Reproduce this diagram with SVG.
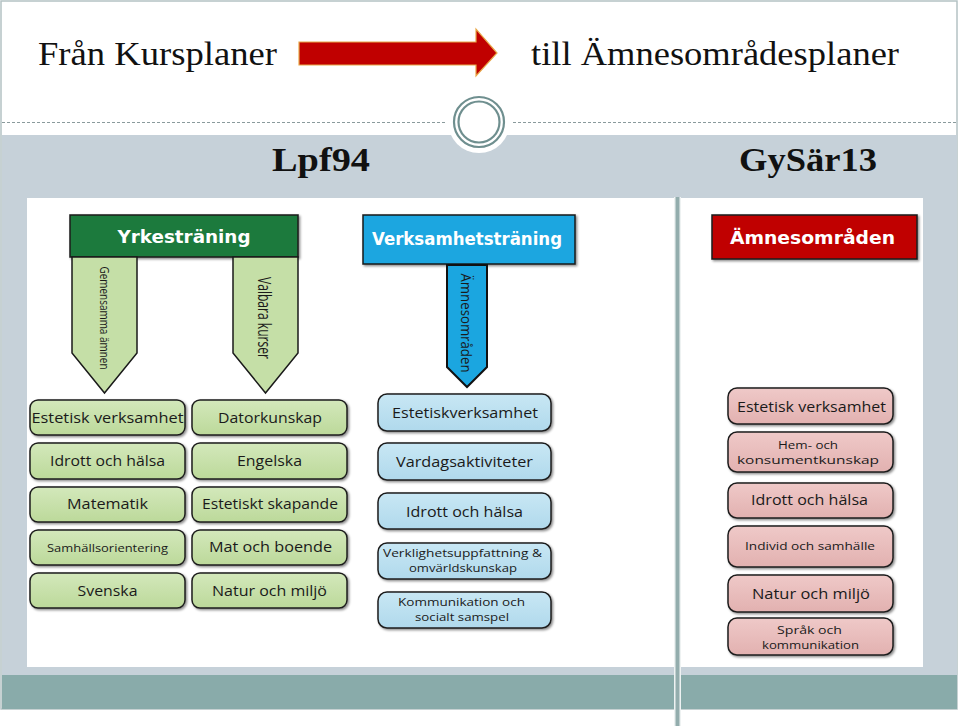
<svg xmlns="http://www.w3.org/2000/svg" width="960" height="726" viewBox="0 0 960 726">
<defs>
<linearGradient id="gG" x1="0" y1="0" x2="0" y2="1"><stop offset="0" stop-color="#d3e8bb"/><stop offset="1" stop-color="#bcd99a"/></linearGradient>
<linearGradient id="gB" x1="0" y1="0" x2="0" y2="1"><stop offset="0" stop-color="#c8e7f4"/><stop offset="1" stop-color="#b0d9ec"/></linearGradient>
<linearGradient id="gR" x1="0" y1="0" x2="0" y2="1"><stop offset="0" stop-color="#efc9c8"/><stop offset="1" stop-color="#e2b1b0"/></linearGradient>
<filter id="sh" x="-10%" y="-10%" width="125%" height="130%"><feDropShadow dx="1.5" dy="1.5" stdDeviation="1" flood-color="#000" flood-opacity="0.45"/></filter>
</defs>
<style>
.title{font-family:"Liberation Serif","Times New Roman",serif;font-size:34px;fill:#111}
.sub{font-family:"Liberation Serif","Times New Roman",serif;font-size:33px;font-weight:bold;fill:#111}
.hdr{font-family:"DejaVu Sans",Verdana,sans-serif;font-weight:bold;font-size:17px;fill:#fff;text-anchor:middle}
.bx{stroke:#1e1e1e;stroke-width:1.5;filter:url(#sh)}
.g{fill:url(#gG)}
.b{fill:url(#gB)}
.r{fill:url(#gR)}
.t{font-family:"Open Sans","Noto Sans",sans-serif;font-size:14px;fill:#1a1a1a;text-anchor:middle}
.s{font-family:"Open Sans","Noto Sans",sans-serif;font-size:11.5px;fill:#1a1a1a;text-anchor:middle}
.vt{font-family:"Open Sans","Noto Sans",sans-serif;fill:#1a1a1a;text-anchor:middle;dominant-baseline:central}
.arw{stroke:#1a1a1a;stroke-width:1.5}
</style>

<!-- background -->
<rect x="0" y="0" width="960" height="726" fill="#fff"/>
<rect x="1" y="1" width="956" height="708" fill="#fff" stroke="#b4c2c4" stroke-width="1.5"/>
<rect x="2" y="135" width="955" height="540" fill="#c6d1d9"/>
<rect x="2" y="675" width="955" height="34" fill="#89abaa"/>
<line x1="2" y1="122.5" x2="445" y2="122.5" stroke="#8a9a9c" stroke-width="1" stroke-dasharray="3,2"/>
<line x1="513" y1="122.5" x2="956" y2="122.5" stroke="#8a9a9c" stroke-width="1" stroke-dasharray="3,2"/>
<circle cx="479" cy="122" r="31" fill="#fff"/>
<circle cx="479" cy="122" r="25" fill="none" stroke="#6f8f8f" stroke-width="2.2"/>
<circle cx="479" cy="122" r="20.5" fill="none" stroke="#6f8f8f" stroke-width="2.2"/>
<rect x="27" y="198" width="896" height="469" fill="#fff"/>
<rect x="674" y="197" width="7" height="529" fill="#eef2f2"/>
<rect x="675.5" y="197" width="4" height="529" fill="#93adad"/>

<!-- titles -->
<text class="title" x="38" y="65" textLength="239" lengthAdjust="spacingAndGlyphs">Från Kursplaner</text>
<text class="title" x="531" y="65" textLength="368" lengthAdjust="spacingAndGlyphs">till Ämnesområdesplaner</text>
<text class="sub" x="272" y="171" textLength="98" lengthAdjust="spacingAndGlyphs">Lpf94</text>
<text class="sub" x="739" y="171" textLength="138" lengthAdjust="spacingAndGlyphs">GySär13</text>

<g id="connectors">
<polygon points="299,42 476,42 476,29 497,53 476,76 476,65 299,65" fill="#c00000" stroke="#e8a848" stroke-width="1.2"/>
</g>

<!-- Lpf94 Yrkesträning -->
<g id="yrkestraning">
<rect x="70" y="215" width="228" height="42" fill="#1e7a3e" stroke="#1a1a1a" stroke-width="1.5" filter="url(#sh)"/>
<text class="hdr" x="184" y="243" textLength="133" lengthAdjust="spacingAndGlyphs">Yrkesträning</text>
</g>
<g id="gemensamma-amnen">
<polygon class="arw" points="72,257 137,257 137,353 104.5,393 72,353" fill="#c5dfa7"/>
<text class="vt" font-size="12.5" transform="translate(104,318) rotate(90)" textLength="103" lengthAdjust="spacingAndGlyphs">Gemensamma ämnen</text>
</g>
<g id="valbara-kurser">
<polygon class="arw" points="233,257 298,257 298,353 265.5,393 233,353" fill="#c5dfa7"/>
<text class="vt" font-size="18" transform="translate(265,318) rotate(90)" textLength="82" lengthAdjust="spacingAndGlyphs">Valbara kurser</text>
</g>

<g id="g-estetisk"><rect class="bx g" x="30" y="400" width="155" height="35" rx="8"/><text class="t" x="107.5" y="423" textLength="152" lengthAdjust="spacingAndGlyphs">Estetisk verksamhet</text></g>
<g id="g-idrott"><rect class="bx g" x="30" y="443" width="155" height="36" rx="8"/><text class="t" x="107.5" y="466" textLength="115" lengthAdjust="spacingAndGlyphs">Idrott och hälsa</text></g>
<g id="g-matematik"><rect class="bx g" x="30" y="487" width="155" height="35" rx="8"/><text class="t" x="107.5" y="509" textLength="81" lengthAdjust="spacingAndGlyphs">Matematik</text></g>
<g id="g-samhall"><rect class="bx g" x="30" y="530" width="155" height="35" rx="8"/><text class="s" x="107.5" y="552" textLength="121" lengthAdjust="spacingAndGlyphs">Samhällsorientering</text></g>
<g id="g-svenska"><rect class="bx g" x="30" y="573" width="155" height="35" rx="8"/><text class="t" x="107.5" y="596" textLength="60" lengthAdjust="spacingAndGlyphs">Svenska</text></g>

<g id="g-dator"><rect class="bx g" x="192" y="400" width="155" height="35" rx="8"/><text class="t" x="270" y="423" textLength="104" lengthAdjust="spacingAndGlyphs">Datorkunskap</text></g>
<g id="g-engelska"><rect class="bx g" x="192" y="443" width="155" height="36" rx="8"/><text class="t" x="269.5" y="466" textLength="65" lengthAdjust="spacingAndGlyphs">Engelska</text></g>
<g id="g-estetiskt"><rect class="bx g" x="192" y="487" width="155" height="35" rx="8"/><text class="t" x="270" y="509" textLength="136" lengthAdjust="spacingAndGlyphs">Estetiskt skapande</text></g>
<g id="g-mat"><rect class="bx g" x="192" y="530" width="155" height="35" rx="8"/><text class="t" x="270.5" y="552" textLength="123" lengthAdjust="spacingAndGlyphs">Mat och boende</text></g>
<g id="g-natur"><rect class="bx g" x="192" y="573" width="155" height="35" rx="8"/><text class="t" x="269.5" y="596" textLength="115" lengthAdjust="spacingAndGlyphs">Natur och miljö</text></g>

<!-- Verksamhetsträning -->
<g id="verksamhetstraning">
<rect x="363" y="215" width="212" height="49" fill="#1ba6e0" stroke="#1a1a1a" stroke-width="1.5" filter="url(#sh)"/>
<text class="hdr" x="467" y="245" textLength="190" lengthAdjust="spacingAndGlyphs">Verksamhetsträning</text>
</g>
<g id="amnesomraden-pil">
<polygon points="447,265 487,265 487,367 467,387 447,367" fill="#1ba6e0" stroke="#111" stroke-width="2"/>
<text class="vt" font-size="14" transform="translate(466,323) rotate(90)" textLength="99" lengthAdjust="spacingAndGlyphs">Ämnesområden</text>
</g>

<g id="b-estetisk"><rect class="bx b" x="378" y="394" width="173" height="37" rx="9"/><text class="t" x="465" y="418" textLength="146" lengthAdjust="spacingAndGlyphs">Estetiskverksamhet</text></g>
<g id="b-vardag"><rect class="bx b" x="378" y="443" width="173" height="37" rx="9"/><text class="t" x="464.5" y="467" textLength="137" lengthAdjust="spacingAndGlyphs">Vardagsaktiviteter</text></g>
<g id="b-idrott"><rect class="bx b" x="378" y="493" width="173" height="36" rx="9"/><text class="t" x="464.5" y="517" textLength="117" lengthAdjust="spacingAndGlyphs">Idrott och hälsa</text></g>
<g id="b-verklighet"><rect class="bx b" x="378" y="543" width="173" height="36" rx="9"/><text class="s" x="462.5" y="557" textLength="159" lengthAdjust="spacingAndGlyphs">Verklighetsuppfattning &amp;</text><text class="s" x="463" y="572" textLength="108" lengthAdjust="spacingAndGlyphs">omvärldskunskap</text></g>
<g id="b-kommunikation"><rect class="bx b" x="378" y="592" width="173" height="36" rx="9"/><text class="s" x="461.5" y="606" textLength="127" lengthAdjust="spacingAndGlyphs">Kommunikation och</text><text class="s" x="462" y="621" textLength="94" lengthAdjust="spacingAndGlyphs">socialt samspel</text></g>

<!-- GySär13 Ämnesområden -->
<g id="amnesomraden">
<rect x="712" y="215" width="205" height="44" fill="#c00000" stroke="#1a1a1a" stroke-width="1.5" filter="url(#sh)"/>
<text class="hdr" x="812.5" y="244" textLength="165" lengthAdjust="spacingAndGlyphs">Ämnesområden</text>
</g>

<g id="r-estetisk"><rect class="bx r" x="728" y="388" width="165" height="36" rx="9"/><text class="t" x="811.5" y="412" textLength="149" lengthAdjust="spacingAndGlyphs">Estetisk verksamhet</text></g>
<g id="r-hem"><rect class="bx r" x="728" y="432" width="165" height="40" rx="9"/><text class="s" x="808" y="449" textLength="60" lengthAdjust="spacingAndGlyphs">Hem- och</text><text class="s" x="808" y="464" textLength="142" lengthAdjust="spacingAndGlyphs">konsumentkunskap</text></g>
<g id="r-idrott"><rect class="bx r" x="728" y="483" width="165" height="35" rx="9"/><text class="t" x="809.5" y="505" textLength="117" lengthAdjust="spacingAndGlyphs">Idrott och hälsa</text></g>
<g id="r-individ"><rect class="bx r" x="728" y="526" width="165" height="41" rx="9"/><text class="s" x="810" y="550" textLength="130" lengthAdjust="spacingAndGlyphs">Individ och samhälle</text></g>
<g id="r-natur"><rect class="bx r" x="728" y="575" width="165" height="37" rx="9"/><text class="t" x="811" y="599" textLength="118" lengthAdjust="spacingAndGlyphs">Natur och miljö</text></g>
<g id="r-sprak"><rect class="bx r" x="728" y="618" width="165" height="37" rx="9"/><text class="s" x="809.5" y="634" textLength="65" lengthAdjust="spacingAndGlyphs">Språk  och</text><text class="s" x="810.5" y="649" textLength="97" lengthAdjust="spacingAndGlyphs">kommunikation</text></g>
</svg>
